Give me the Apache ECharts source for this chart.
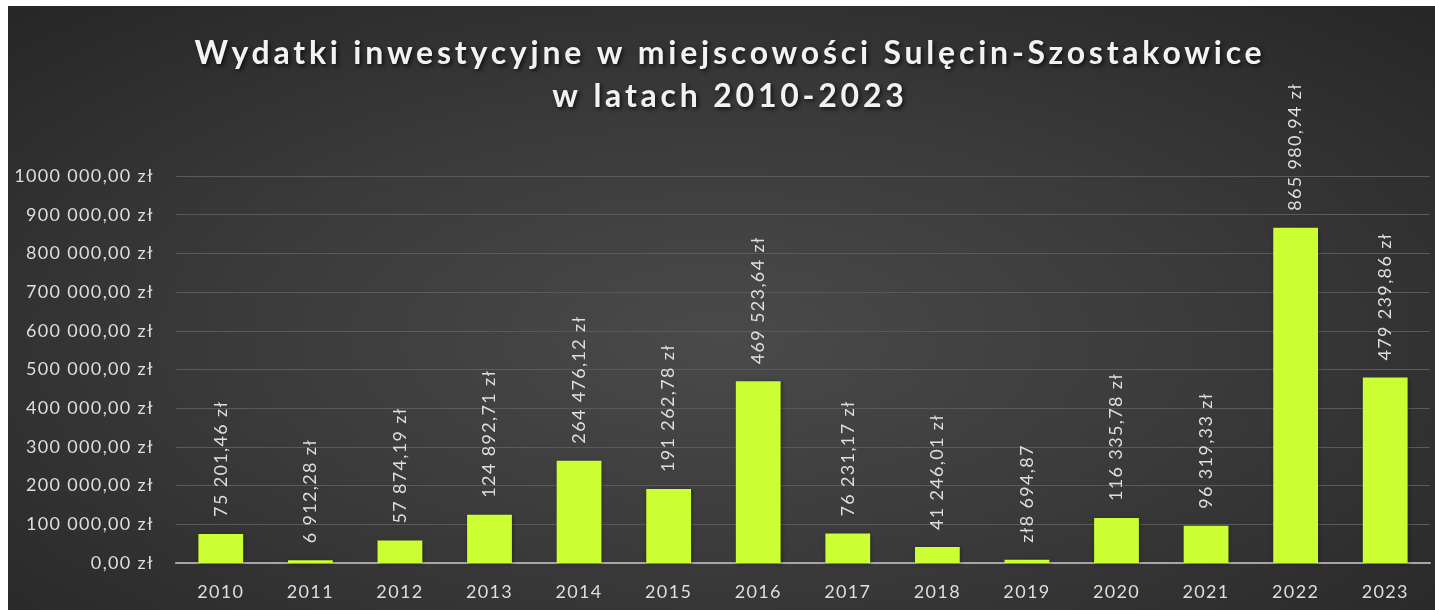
<!DOCTYPE html>
<html><head><meta charset="utf-8">
<script src="https://cdn.jsdelivr.net/npm/echarts@6/dist/echarts.min.js"></script>
<style>
html,body{margin:0;padding:0;background:#fff;width:1435px;height:610px;overflow:hidden;}
#c{position:absolute;left:8px;top:6px;width:1427px;height:604px;
background:radial-gradient(ellipse 70% 75% at 50% 55%, #4a4a4a 0%, #3a3a3a 50%, #272727 100%);}
</style></head>
<body><div id="c"></div>
<script>
const categories = ['2010','2011','2012','2013','2014','2015','2016','2017','2018','2019','2020','2021','2022','2023'];
const values = [75201.46, 6912.28, 57874.19, 124892.71, 264476.12, 191262.78, 469523.64, 76231.17, 41246.01, 8694.87, 116335.78, 96319.33, 865980.94, 479239.86];
const valueLabels = ['75 201,46 zł','6 912,28 zł','57 874,19 zł','124 892,71 zł','264 476,12 zł','191 262,78 zł','469 523,64 zł','76 231,17 zł','41 246,01 zł','zł8 694,87','116 335,78 zł','96 319,33 zł','865 980,94 zł','479 239,86 zł'];
const yTicks = {min: 0, max: 1000000, interval: 100000};
const titleText = 'Wydatki inwestycyjne w miejscowości Sulęcin-Szostakowice\nw latach 2010-2023';

// letter spacing for Lato texts (the reference font is set wide)
(function(){
  const P = CanvasRenderingContext2D.prototype;
  function ls(ctx){
    const f = ctx.font || '';
    if (f.indexOf('Lato') < 0) return '0px';
    const m = /(\d+(?:\.\d+)?)px/.exec(f);
    if (!m) return '0px';
    const s = parseFloat(m[1]);
    const bold = /bold|[6-9]00/.test(f);
    return (bold ? s * 0.118 : s * 0.075).toFixed(2) + 'px';
  }
  ['fillText','strokeText','measureText'].forEach(function(n){
    const o = P[n];
    P[n] = function(){
      const prev = this.letterSpacing;
      try { this.letterSpacing = ls(this); } catch(e) {}
      const r = o.apply(this, arguments);
      try { this.letterSpacing = prev; } catch(e) {}
      return r;
    };
  });
})();

function fmt(v){
  const neg = v < 0; v = Math.abs(v);
  let s = v.toFixed(2);
  let [i, d] = s.split('.');
  if (i.length > 3) i = i.slice(0, i.length-3) + ' ' + i.slice(-3);
  return (neg?'-':'') + i + ',' + d + ' zł';
}

const chart = echarts.init(document.getElementById('c'), null, {renderer:'canvas'});
chart.setOption({
  backgroundColor: 'transparent',
  title: {
    text: titleText,
    left: 722, top: 26, padding: 0, textAlign: 'center',
    textStyle: {
      color: '#f2f2f2', fontFamily: 'Lato', fontWeight: 'bold', fontSize: 32,
      lineHeight: 43,
      textShadowColor: 'rgba(0,0,0,0.7)', textShadowBlur: 4, textShadowOffsetX: 2, textShadowOffsetY: 2
    }
  },
  grid: {left: 168, right: 5, top: 170, bottom: 47, containLabel: false},
  xAxis: {
    type: 'category', data: categories,
    axisLine: {lineStyle: {color: '#a6a6a6', width: 2}},
    axisTick: {show: false},
    axisLabel: {color: '#dedede', fontFamily: 'Lato', fontSize: 18, margin: 20}
  },
  yAxis: {
    type: 'value', min: yTicks.min, max: yTicks.max, interval: yTicks.interval,
    axisLine: {show: false}, axisTick: {show: false},
    splitLine: {lineStyle: {color: '#5a5a5a', width: 1}},
    axisLabel: {color: '#dedede', fontFamily: 'Lato', fontSize: 18, margin: 22, formatter: fmt}
  },
  series: [{
    type: 'bar', data: values, barWidth: '50%',
    itemStyle: {color: '#ccff33', shadowColor: 'rgba(0,0,0,0.35)', shadowBlur: 4, shadowOffsetX: 1, shadowOffsetY: 1},
    label: {
      show: true, position: 'top', rotate: 90, distance: 17,
      align: 'left', verticalAlign: 'middle',
      color: '#dedede', fontFamily: 'Lato', fontSize: 18,
      formatter: p => valueLabels[p.dataIndex]
    }
  }]
});
</script></body></html>
